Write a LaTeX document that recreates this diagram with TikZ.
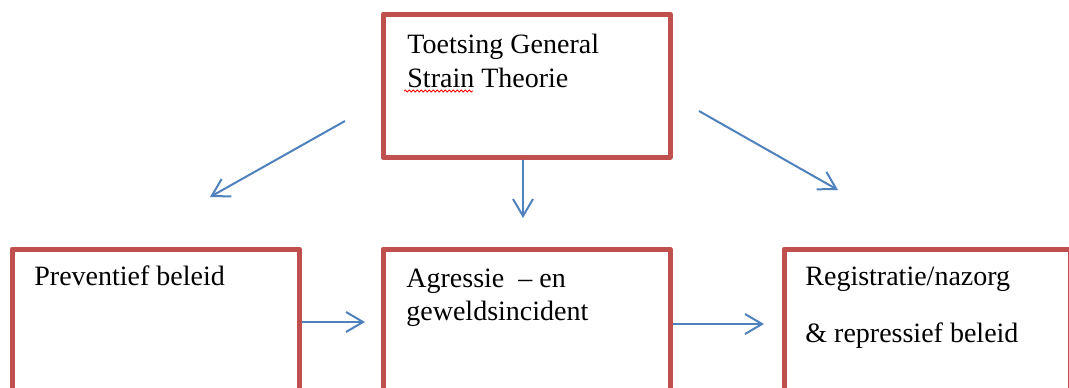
\documentclass[tikz,border=0pt]{standalone}
\usepackage{fontspec}
\setmainfont{Liberation Serif}
\usetikzlibrary{arrows.meta,decorations.pathmorphing}
\definecolor{boxred}{HTML}{C0504D}
\definecolor{arrblue}{HTML}{4F81BD}
\begin{document}
\begin{tikzpicture}[x=0.5pt,y=-0.5pt,
  box/.style={draw=boxred,line width=2.5pt,line join=round,inner sep=0pt,
    minimum width=143.5pt},
  lbl/.style={anchor=base west,inner sep=0pt,font=\fontsize{14}{17}\selectfont},
  conn/.style={draw=arrblue,line width=1pt,-{Straight Barb[length=8.5pt,width=10pt,line width=1pt]}}]
\useasboundingbox (0,0) rectangle (1069,387);
\clip (0,0) rectangle (1069,387);
% boxes
\node[box,minimum height=71.5pt] (top) at (526.5,85.5) {};
\node[box,minimum height=75.5pt] (left) at (155.5,324.5) {};
\node[box,minimum height=75.5pt] (mid) at (526.5,324.5) {};
\node[box,minimum height=75.5pt,minimum width=143pt] (right) at (927,324.5) {};
% texts
\node[lbl] (t1) at (407,53) {Toetsing General};
\node[lbl] (t2) at (407,87) {Strain Theorie};
\draw[red,line width=0.4pt,decorate,decoration={snake,amplitude=0.5pt,segment length=2pt}] (404,91) -- (473,91);
\node[lbl] (l1) at (34,285) {Preventief beleid};
\node[lbl] (m1) at (406,287) {Agressie\ \ – en};
\node[lbl] (m2) at (406,320) {geweldsincident};
\node[lbl] (r1) at (805,285) {Registratie/nazorg};
\node[lbl] (r2) at (805,342) {\&\ repressief\ beleid};
% arrow end points
\coordinate (a1s) at (345,121);
\coordinate (a1e) at (210,197);
\coordinate (a2s) at (699,111);
\coordinate (a2e) at (838,190);
\coordinate (a3e) at (523,218);
\coordinate (a4e) at (365,322);
\coordinate (a5e) at (764,324);
\draw[conn] (a1s) -- (a1e);
\draw[conn] (a2s) -- (a2e);
\draw[conn] (top.south -| a3e) -- (a3e);
\draw[conn] (left.east |- a4e) -- (a4e);
\draw[conn] (mid.east |- a5e) -- (a5e);
\end{tikzpicture}
\end{document}
